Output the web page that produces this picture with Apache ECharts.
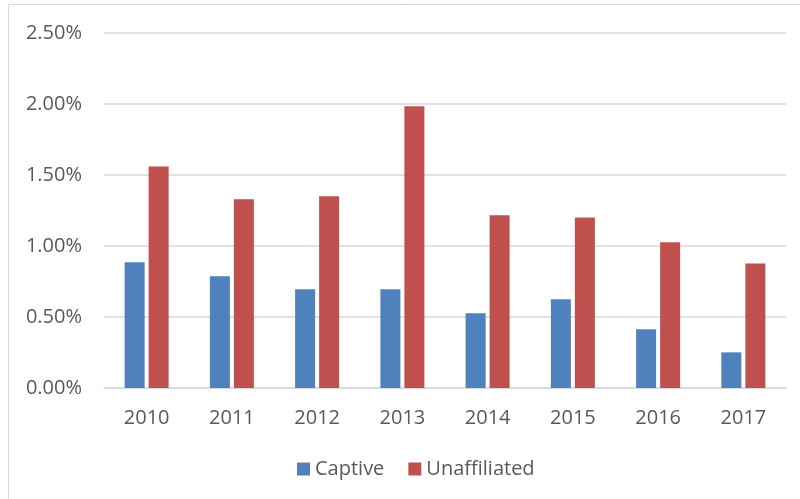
<!DOCTYPE html>
<html>
<head>
<meta charset="utf-8">
<title>Captive vs Unaffiliated</title>
<script src="https://cdn.jsdelivr.net/npm/echarts@6/dist/echarts.min.js"></script>
<style>
	html, body { margin: 0; padding: 0; background: #fff; }
	#chart { width: 800px; height: 499px; }
</style>
</head>
<body>
<div id="chart"></div>
<script>
var years = ['2010', '2011', '2012', '2013', '2014', '2015', '2016', '2017'];
var captive = [0.885, 0.787, 0.695, 0.695, 0.526, 0.625, 0.413, 0.251];
var unaffiliated = [1.56, 1.33, 1.35, 1.984, 1.216, 1.20, 1.026, 0.877];
var yTicks = [0, 0.5, 1.0, 1.5, 2.0, 2.5];

var myChart = echarts.init(document.getElementById('chart'));
var textColor = '#595959';
var font = '"Open Sans", "Liberation Sans", sans-serif';

var option = {
	animation: false,
	backgroundColor: '#fff',
	graphic: [{
		// outer chart border
		type: 'rect',
		shape: { x: 8.5, y: 4.5, width: 820, height: 520 },
		style: { fill: 'none', stroke: '#d9d9d9', lineWidth: 1 },
		silent: true
	}],
	legend: {
		data: ['Captive', 'Unaffiliated'],
		bottom: 15,
		left: 292,
		itemWidth: 13,
		itemHeight: 13,
		itemGap: 24,
		icon: 'rect',
		textStyle: { color: textColor, fontSize: 20, fontFamily: font }
	},
	grid: {
		left: 104,
		right: 14,
		top: 33,
		bottom: 111
	},
	xAxis: {
		type: 'category',
		data: years,
		axisTick: { show: false },
		axisLine: { lineStyle: { color: '#d9d9d9', width: 1.5 } },
		axisLabel: {
			color: textColor,
			fontSize: 20,
			fontFamily: font,
			margin: 20
		}
	},
	yAxis: {
		type: 'value',
		min: yTicks[0],
		max: yTicks[yTicks.length - 1],
		interval: 0.5,
		axisLine: { show: false },
		axisTick: { show: false },
		axisLabel: {
			color: textColor,
			fontSize: 20,
			fontFamily: font,
			margin: 22,
			formatter: function (v) { return v.toFixed(2) + '%'; }
		},
		splitLine: { lineStyle: { color: '#d9d9d9', width: 1.5 } }
	},
	series: [{
		name: 'Captive',
		type: 'bar',
		barWidth: 20,
		barGap: '20%',
		itemStyle: { color: '#4F81BD' },
		data: captive
	}, {
		name: 'Unaffiliated',
		type: 'bar',
		barWidth: 20,
		itemStyle: { color: '#C0504D' },
		data: unaffiliated
	}]
};

myChart.setOption(option);
window.addEventListener('resize', function () {
	myChart.resize();
});
</script>
</body>
</html>
